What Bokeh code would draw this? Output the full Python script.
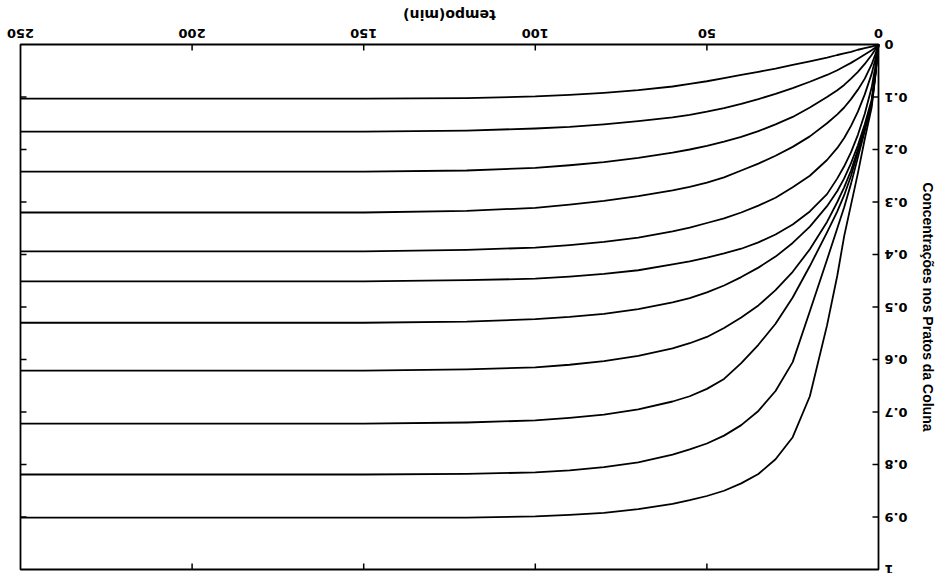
import math
from bokeh.plotting import figure
from bokeh.models import Range1d, Label
from bokeh.embed import file_html
from bokeh.resources import INLINE

# time (min)
tempo = [0, 1, 2, 4, 6, 8, 10, 12, 15, 20, 25, 30, 35, 40, 45, 50, 55, 60, 70, 80, 90, 100, 120, 150, 200, 250]

prato_1 = [0, 0.002, 0.004, 0.007, 0.010, 0.014, 0.017, 0.020, 0.025, 0.032, 0.039, 0.046, 0.052, 0.058, 0.064, 0.070, 0.075, 0.080, 0.087, 0.092, 0.096, 0.099, 0.102, 0.103, 0.103, 0.103]
prato_2 = [0, 0.006, 0.011, 0.019, 0.027, 0.035, 0.042, 0.049, 0.058, 0.071, 0.083, 0.094, 0.104, 0.113, 0.121, 0.128, 0.134, 0.139, 0.146, 0.152, 0.157, 0.160, 0.164, 0.166, 0.166, 0.166]
prato_3 = [0, 0.010, 0.020, 0.037, 0.052, 0.065, 0.077, 0.087, 0.100, 0.120, 0.138, 0.152, 0.165, 0.176, 0.185, 0.193, 0.200, 0.206, 0.216, 0.224, 0.230, 0.235, 0.240, 0.242, 0.242, 0.242]
prato_4 = [0, 0.020, 0.038, 0.065, 0.086, 0.104, 0.120, 0.133, 0.150, 0.175, 0.195, 0.212, 0.227, 0.240, 0.253, 0.263, 0.271, 0.278, 0.289, 0.298, 0.305, 0.311, 0.317, 0.320, 0.320, 0.320]
prato_5 = [0, 0.030, 0.056, 0.095, 0.128, 0.155, 0.178, 0.197, 0.220, 0.250, 0.272, 0.292, 0.307, 0.320, 0.331, 0.340, 0.349, 0.356, 0.368, 0.376, 0.382, 0.387, 0.391, 0.394, 0.394, 0.394]
prato_6 = [0, 0.045, 0.082, 0.132, 0.172, 0.205, 0.232, 0.255, 0.285, 0.318, 0.343, 0.362, 0.377, 0.389, 0.398, 0.406, 0.413, 0.419, 0.430, 0.437, 0.442, 0.446, 0.449, 0.451, 0.451, 0.451]
prato_7 = [0, 0.058, 0.105, 0.152, 0.192, 0.226, 0.255, 0.279, 0.308, 0.347, 0.378, 0.404, 0.425, 0.443, 0.459, 0.472, 0.483, 0.491, 0.504, 0.513, 0.519, 0.523, 0.528, 0.530, 0.530, 0.530]
prato_8 = [0, 0.060, 0.110, 0.158, 0.200, 0.240, 0.272, 0.300, 0.338, 0.390, 0.433, 0.468, 0.497, 0.520, 0.540, 0.557, 0.569, 0.579, 0.593, 0.603, 0.610, 0.615, 0.619, 0.621, 0.621, 0.621]
prato_9 = [0, 0.062, 0.112, 0.160, 0.205, 0.250, 0.287, 0.318, 0.358, 0.422, 0.482, 0.532, 0.572, 0.607, 0.637, 0.656, 0.670, 0.680, 0.695, 0.705, 0.711, 0.716, 0.720, 0.722, 0.722, 0.722]
prato_10 = [0, 0.063, 0.115, 0.165, 0.215, 0.265, 0.310, 0.350, 0.410, 0.508, 0.605, 0.660, 0.698, 0.725, 0.745, 0.760, 0.771, 0.781, 0.796, 0.805, 0.811, 0.815, 0.818, 0.819, 0.819, 0.819]
prato_11 = [0, 0.065, 0.120, 0.180, 0.245, 0.305, 0.365, 0.440, 0.535, 0.670, 0.748, 0.790, 0.818, 0.836, 0.850, 0.860, 0.868, 0.875, 0.885, 0.892, 0.896, 0.899, 0.901, 0.901, 0.901, 0.901]

pratos = [prato_1, prato_2, prato_3, prato_4, prato_5, prato_6, prato_7, prato_8, prato_9, prato_10, prato_11]

x_ticks = [0, 50, 100, 150, 200, 250]
x_tick_labels = ["0", "50", "100", "150", "200", "250"]
y_ticks = [0, 0.1, 0.2, 0.3, 0.4, 0.5, 0.6, 0.7, 0.8, 0.9, 1]
y_tick_labels = ["0", "0.1", "0.2", "0.3", "0.4", "0.5", "0.6", "0.7", "0.8", "0.9", "1"]

x_title = "tempo(min)"
y_title = "Concentrações nos Pratos da Coluna"

X_MIN, X_MAX = 0, 250
Y_MIN, Y_MAX = 0, 1

# ---- layout (pixels) ----
W, H = 937, 573
BOX_L, BOX_R, BOX_T, BOX_B = 20, 878, 44, 569   # chart box on the canvas

# the chart is shown rotated by 180 degrees: time grows to the left,
# concentration grows downwards.  The plotting frame covers the whole canvas
# so that the texts around the box are not clipped.
px_per_x = (BOX_R - BOX_L) / (X_MAX - X_MIN)
px_per_y = (BOX_B - BOX_T) / (Y_MAX - Y_MIN)
x_range = Range1d(X_MAX + BOX_L / px_per_x, X_MIN - (W - BOX_R) / px_per_x)
y_range = Range1d(Y_MAX + (H - BOX_B) / px_per_y, Y_MIN - BOX_T / px_per_y)

TICK_FONT = "DejaVu Sans"
TITLE_FONT = "Liberation Sans"

p = figure(width=W, height=H, output_backend="svg", toolbar_location=None,
           x_range=x_range, y_range=y_range,
           x_axis_location=None, y_axis_location=None,
           min_border_left=0, min_border_right=0, min_border_top=0, min_border_bottom=0)

p.grid.visible = False
p.outline_line_color = None
p.background_fill_color = "white"
p.border_fill_color = "white"

# chart box
p.quad(left=[X_MAX], right=[X_MIN], top=[Y_MIN], bottom=[Y_MAX],
       fill_color=None, line_color="black", line_width=1.8)

for vals in pratos:
    p.line(tempo, vals, line_color="black", line_width=1.8, line_join="round")

TICK_LEN = 6
inner_x = x_ticks[1:-1]
inner_y = y_ticks[1:-1]
# ticks on the top edge and the bottom edge, pointing inward
p.ray(x=inner_x, y=[Y_MIN] * len(inner_x), length=TICK_LEN, length_units="screen",
      angle=-math.pi / 2, line_color="black", line_width=1.5)
p.ray(x=inner_x, y=[Y_MAX] * len(inner_x), length=TICK_LEN, length_units="screen",
      angle=math.pi / 2, line_color="black", line_width=1.5)
# ticks on the right edge and the left edge, pointing inward
p.ray(x=[X_MIN] * len(inner_y), y=inner_y, length=TICK_LEN, length_units="screen",
      angle=math.pi, line_color="black", line_width=1.5)
p.ray(x=[X_MAX] * len(inner_y), y=inner_y, length=TICK_LEN, length_units="screen",
      angle=0, line_color="black", line_width=1.5)

# tick labels, upside down
for t, s in zip(x_ticks, x_tick_labels):
    p.add_layout(Label(x=t, y=Y_MIN, text=s, y_offset=7, angle=math.pi,
                       text_align="center", text_baseline="top",
                       text_font=TICK_FONT, text_font_style="bold",
                       text_font_size="13px", text_color="black"))
for t, s in zip(y_ticks, y_tick_labels):
    p.add_layout(Label(x=X_MIN, y=t, text=s, x_offset=6, angle=math.pi,
                       text_align="right", text_baseline="middle",
                       text_font=TICK_FONT, text_font_style="bold",
                       text_font_size="13px", text_color="black"))

# axis titles
p.add_layout(Label(x=(X_MIN + X_MAX) / 2, y=Y_MIN, text=x_title, y_offset=30, angle=math.pi,
                   text_align="center", text_baseline="middle",
                   text_font=TICK_FONT, text_font_style="bold",
                   text_font_size="14px", text_color="black"))
p.add_layout(Label(x=X_MIN, y=(Y_MIN + Y_MAX) / 2, text=y_title, x_offset=49, angle=-math.pi / 2,
                   text_align="center", text_baseline="middle",
                   text_font=TITLE_FONT, text_font_style="bold",
                   text_font_size="14px", text_color="black"))

open("out.html", "w").write(file_html(p, INLINE))
